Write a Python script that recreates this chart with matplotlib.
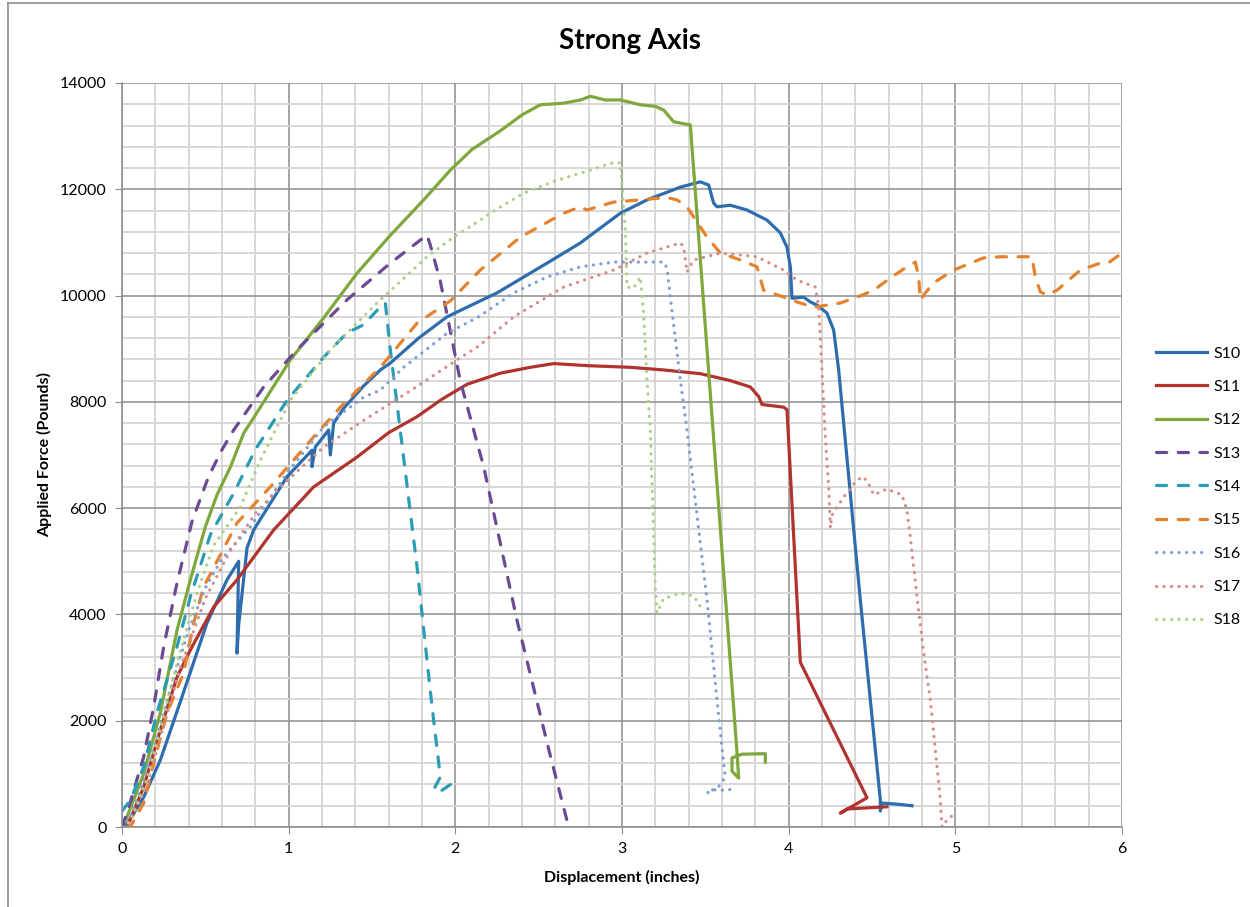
import matplotlib
matplotlib.use('Agg')
import matplotlib.pyplot as plt
from matplotlib.lines import Line2D
from matplotlib.ticker import MultipleLocator

plt.rcParams['font.family'] = ['Lato', 'DejaVu Sans']

# displacement (inches) / applied force (pounds)
s10_x = [0, 0.05, 0.13, 0.23, 0.36, 0.51, 0.63, 0.70, 0.69, 0.70, 0.75, 0.79, 0.99, 1.14, 1.14, 1.16,
         1.24, 1.25, 1.27, 1.33, 1.45, 1.55, 1.61, 1.78, 1.95, 2.25, 2.55, 2.75, 2.99, 3.15, 3.35, 3.47,
         3.52, 3.55, 3.57, 3.65, 3.75, 3.87, 3.95, 3.99, 4.01, 4.02, 4.09, 4.13, 4.17, 4.23, 4.27, 4.30,
         4.43, 4.55, 4.55, 4.56, 4.65, 4.74]
s10_y = [0, 150, 560, 1260, 2450, 3840, 4650, 5000, 3270, 3800, 5250, 5590, 6590, 7090, 6780, 7150,
         7470, 7000, 7600, 7880, 8300, 8600, 8730, 9200, 9600, 10050, 10610, 10990, 11550, 11800, 12040, 12140,
         12080, 11740, 11670, 11700, 11610, 11420, 11180, 10910, 10540, 9950, 9970, 9880, 9820, 9670, 9350, 8600,
         4270, 510, 300, 450, 430, 400]

s11_x = [0.03, 0.13, 0.23, 0.33, 0.41, 0.55, 0.69, 0.91, 1.15, 1.41, 1.6, 1.77, 1.92, 2.07, 2.27, 2.45,
         2.59, 2.8, 3.05, 3.25, 3.47, 3.65, 3.77, 3.82, 3.84, 3.97, 3.99, 4.07, 4.47, 4.31, 4.35, 4.59]
s11_y = [0, 750, 1830, 2820, 3330, 4140, 4650, 5590, 6400, 6960, 7420, 7720, 8050, 8330, 8540, 8650,
         8720, 8680, 8650, 8600, 8530, 8400, 8280, 8100, 7950, 7900, 7850, 3100, 550, 260, 340, 380]

s12_x = [0, 0.03, 0.13, 0.23, 0.33, 0.41, 0.5, 0.57, 0.65, 0.73, 0.8, 1.01, 1.21, 1.41, 1.6, 1.81,
         1.97, 2.1, 2.27, 2.4, 2.51, 2.65, 2.75, 2.81, 2.9, 2.99, 3.11, 3.2, 3.25, 3.31, 3.41, 3.69,
         3.70, 3.66, 3.66, 3.72, 3.86, 3.86]
s12_y = [0, 190, 1000, 2150, 3700, 4650, 5650, 6250, 6770, 7410, 7750, 8790, 9580, 10420, 11100, 11800,
         12360, 12750, 13100, 13400, 13590, 13620, 13680, 13750, 13680, 13680, 13590, 13560, 13490, 13270, 13210, 1400,
         920, 1050, 1300, 1370, 1380, 1220]

s13_x = [0, 0.03, 0.13, 0.19, 0.25, 0.33, 0.42, 0.52, 0.6, 0.67, 0.85, 1.05, 1.35, 1.61, 1.83, 1.85,
         1.91, 2.03, 2.17, 2.37, 2.57, 2.68]
s13_y = [0, 260, 1320, 2260, 3390, 4590, 5750, 6600, 7100, 7470, 8280, 8980, 9920, 10610, 11140, 10950,
         10270, 8390, 6780, 3890, 1340, 0]

s14_x = [0, 0.05, 0.13, 0.21, 0.33, 0.41, 0.53, 0.67, 0.8, 0.99, 1.21, 1.35, 1.45, 1.55, 1.58, 1.61,
         1.67, 1.77, 1.85, 1.91, 1.87, 1.91, 1.98, 2.0]
s14_y = [300, 500, 1130, 2150, 3390, 4330, 5500, 6280, 7100, 8030, 8840, 9300, 9450, 9790, 9860, 8980,
         7450, 4900, 2550, 940, 705, 670, 820, 820]

s15_x = [0.03, 0.05, 0.13, 0.19, 0.27, 0.37, 0.43, 0.49, 0.69, 0.89, 1.15, 1.31, 1.55, 1.77, 1.97, 2.15,
         2.39, 2.65, 2.75, 2.79, 2.95, 3.11, 3.21, 3.29, 3.33, 3.39, 3.51, 3.59, 3.71, 3.81, 3.85, 3.99,
         4.05, 4.15, 4.31, 4.41, 4.51, 4.61, 4.70, 4.76, 4.78, 4.79, 4.82, 4.87, 4.99, 5.17, 5.27, 5.46,
         5.48, 5.51, 5.55, 5.61, 5.75, 5.87, 5.92, 6.0]
s15_y = [0, 0, 450, 1200, 2140, 2900, 3840, 4520, 5720, 6400, 7340, 7900, 8650, 9480, 9900, 10480,
         11100, 11550, 11670, 11610, 11760, 11800, 11830, 11830, 11800, 11670, 11100, 10800, 10670, 10540, 10100, 9950,
         9880, 9780, 9860, 9970, 10100, 10330, 10520, 10630, 10350, 9920, 10050, 10240, 10480, 10710, 10730, 10730,
         10350, 10070, 10010, 10100, 10480, 10610, 10620, 10800]

s16_x = [0, 0.05, 0.1, 0.2, 0.3, 0.4, 0.5, 0.6, 0.77, 0.99, 1.21, 1.45, 1.55, 1.69, 1.95, 2.14,
         2.35, 2.55, 2.75, 2.95, 3.25, 3.27, 3.29, 3.35, 3.39, 3.51, 3.57, 3.61, 3.62, 3.58, 3.51, 3.55,
         3.62, 3.69]
s16_y = [0, 200, 600, 1600, 2700, 3700, 4500, 5050, 5650, 6660, 7530, 8090, 8220, 8650, 9290, 9600,
         10050, 10350, 10540, 10630, 10630, 10520, 9970, 8410, 7470, 4270, 2390, 1200, 940, 760, 640, 700,
         690, 730]

s17_x = [0, 0.05, 0.15, 0.25, 0.35, 0.5, 0.65, 0.8, 0.95, 1.21, 1.45, 1.55, 1.75, 2.01, 2.14, 2.35,
         2.65, 2.95, 3.15, 3.35, 3.37, 3.39, 3.43, 3.59, 3.81, 3.97, 4.05, 4.16, 4.18, 4.2, 4.22, 4.24,
         4.25, 4.26, 4.33, 4.41, 4.45, 4.49, 4.51, 4.59, 4.68, 4.71, 4.73, 4.77, 4.81, 4.85, 4.91, 4.92,
         4.96, 4.99]
s17_y = [0, 100, 800, 1900, 3000, 4300, 5200, 5900, 6400, 7150, 7650, 7850, 8250, 8790, 9050, 9600,
         10160, 10480, 10800, 10990, 10920, 10440, 10670, 10800, 10730, 10480, 10290, 10160, 9790, 8600, 7340, 6400,
         5630, 5870, 6210, 6530, 6590, 6400, 6250, 6360, 6250, 5960, 5460, 4330, 3270, 2390, 510, 0,
         170, 220]

s18_x = [0, 0.05, 0.15, 0.25, 0.35, 0.45, 0.55, 0.71, 0.83, 1.01, 1.25, 1.53, 1.83, 1.99, 2.15, 2.21,
         2.41, 2.61, 2.8, 2.93, 2.99, 3.02, 3.03, 3.07, 3.11, 3.13, 3.15, 3.17, 3.20, 3.21, 3.25, 3.35,
         3.43, 3.47]
s18_y = [0, 100, 900, 2100, 3300, 4400, 5300, 6020, 6900, 8030, 8980, 9860, 10730, 11100, 11420, 11550,
         11930, 12170, 12350, 12490, 12500, 11230, 10160, 10140, 10350, 9670, 8410, 7470, 4500, 4030, 4300, 4400,
         4350, 4150]

labels = ['S10', 'S11', 'S12', 'S13', 'S14', 'S15', 'S16', 'S17', 'S18']
xs = [s10_x, s11_x, s12_x, s13_x, s14_x, s15_x, s16_x, s17_x, s18_x]
ys = [s10_y, s11_y, s12_y, s13_y, s14_y, s15_y, s16_y, s17_y, s18_y]
colors = ['#2E6DAD', '#B0332E', '#7FA83C', '#6B4A93', '#2B9CB5', '#E5822E',
          '#7D9FD3', '#D58C8A', '#AECF88']
kinds = ['solid'] * 3 + ['dash'] * 3 + ['dot'] * 3

fig = plt.figure(figsize=(12.5, 9.07), dpi=100)
ax = fig.add_axes([0.0976, 0.0882, 0.8, 0.8203])

for x, y, c, k, lab in zip(xs, ys, colors, kinds, labels):
    if k == 'solid':
        ax.plot(x, y, color=c, lw=2.3, label=lab, solid_joinstyle='round')
    elif k == 'dash':
        ax.plot(x, y, color=c, lw=2.3, label=lab, dashes=(3.2, 3.6),
                dash_capstyle='round', dash_joinstyle='round')
    else:
        ax.plot(x, y, color=c, lw=2.3, label=lab, dashes=(0.05, 2.3),
                dash_capstyle='round')

ax.set_xlim(0, 6)
ax.set_ylim(0, 14000)
ax.xaxis.set_major_locator(MultipleLocator(1))
ax.xaxis.set_minor_locator(MultipleLocator(0.2))
ax.yaxis.set_major_locator(MultipleLocator(2000))
ax.yaxis.set_minor_locator(MultipleLocator(400))
ax.grid(which='minor', color='#D4D4D4', lw=1.3)
ax.grid(which='major', color='#8C8C8C', lw=1.1)
ax.set_axisbelow(True)
for side in ['top', 'right']:
    ax.spines[side].set_visible(False)
for side in ['left', 'bottom']:
    ax.spines[side].set_color('#8C8C8C')
    ax.spines[side].set_linewidth(1.1)
ax.tick_params(which='major', length=5, color='#8C8C8C', labelsize=11.5, pad=6)
ax.tick_params(which='minor', length=0)

ax.set_xlabel('Displacement (inches)', fontsize=11.5, fontweight='bold', labelpad=10)
ax.set_ylabel('Applied Force (Pounds)', fontsize=11.5, fontweight='bold', labelpad=6)
fig.text(0.504, 0.955, 'Strong Axis', ha='center', va='center', fontsize=20, fontweight='bold')

ax.legend(loc='center left', bbox_to_anchor=(1.02, 0.457), frameon=False, fontsize=11.5,
          handlelength=3.2, labelspacing=1.2, handletextpad=0.4)

# chart area border
fig.add_artist(Line2D([0.0064, 0.0064], [0, 0.997], color='#8C8C8C', lw=1.2))
fig.add_artist(Line2D([0.0064, 1], [0.997, 0.997], color='#8C8C8C', lw=1.2))

fig.savefig('out.png', dpi=100)
